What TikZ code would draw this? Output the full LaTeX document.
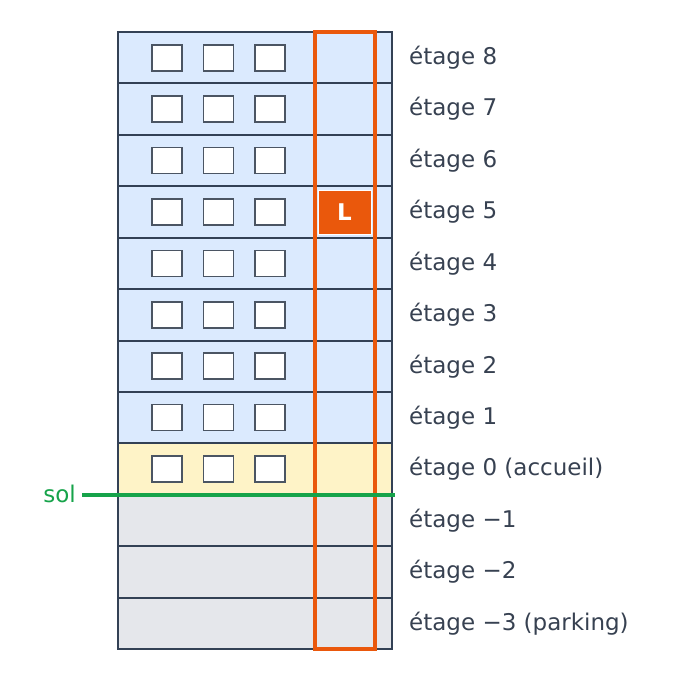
\documentclass[tikz,border=0pt]{standalone}
\usepackage{fontspec}
\setmainfont{DejaVu Sans}
\definecolor{mur}{HTML}{334155}
\definecolor{texte}{HTML}{374151}
\definecolor{vitre}{HTML}{4B5563}
\definecolor{etagebleu}{HTML}{DBEAFE}
\definecolor{etagejaune}{HTML}{FEF3C7}
\definecolor{etagegris}{HTML}{E5E7EB}
\definecolor{ascenseur}{HTML}{EA580C}
\definecolor{terrain}{HTML}{16A34A}
\tikzset{
  etiquette/.style={anchor=west, inner sep=0pt, text=texte, font=\fontsize{23}{27}\selectfont},
  fenetre/.style={fill=white, draw=vitre, line width=1.7pt},
  gaine/.style={draw=ascenseur, line width=4pt},
  cabine/.style={fill=ascenseur, draw=white, line width=1pt, minimum width=53pt, minimum height=44pt,
    inner sep=0pt, text=white, font=\fontsize{23}{27}\selectfont\bfseries},
  sol/.style={draw=terrain, line width=4pt},
}
\begin{document}
\begin{tikzpicture}[x=1pt, y=-1pt]
	\useasboundingbox (0,0) rectangle (681,681);
	\foreach \k/\nom [count=\i from 0] in {8/8, 7/7, 6/6, 5/5, 4/4, 3/3, 2/2, 1/1, 0/0 (accueil), -1/−1, -2/−2, -3/−3 (parking)}
	{
		\pgfmathsetmacro\ytop{32+\i*51.4167}
		\ifnum\k>0 \def\colour{etagebleu}\else\ifnum\k=0 \def\colour{etagejaune}\else\def\colour{etagegris}\fi\fi
		\filldraw[fill=\colour, draw=mur, line width=2pt] (118,\ytop) rectangle (392,\ytop+51.4167);
		\node[etiquette] (etage\k) at (409,\ytop+25.7) {étage \nom};
	}
	\foreach \k in {0, ..., 8}
		\foreach \j in {0, 1, 2}
			\filldraw[fenetre] (152+\j*51.5, 32+8*51.4167-\k*51.4167+12.7) rectangle + (30, 26);
	\draw[gaine] (315,32) rectangle (375,649);
	\node[cabine] (cabine) at (344.5,212) {L};
	\coordinate (sol-o) at (82,495);
	\coordinate (sol-e) at (395,495);
	\draw[sol] (sol-o) -- (sol-e);
	\node[etiquette, anchor=east, text=terrain] (sol) at (76,494) {sol};
\end{tikzpicture}
\end{document}
